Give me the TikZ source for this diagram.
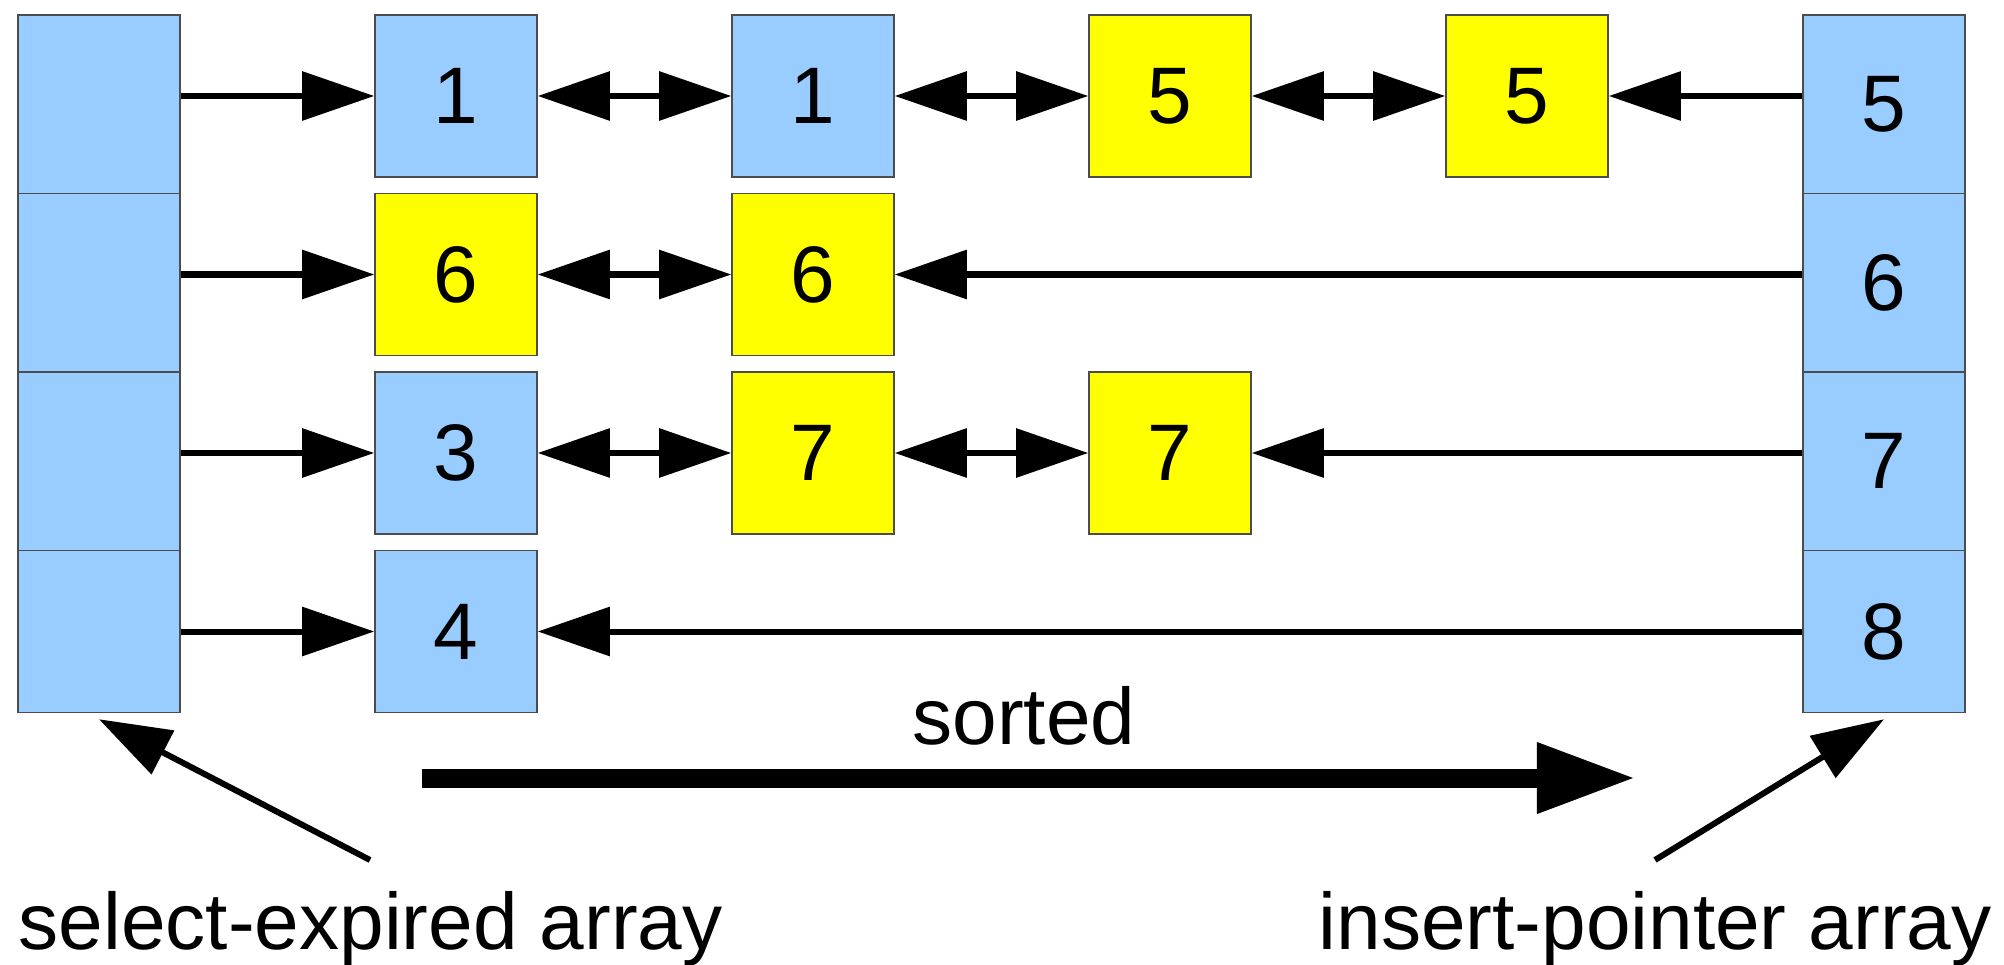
\documentclass[tikz,border=0pt]{standalone}
\usepackage{fontspec}
\setmainfont{Liberation Sans}
\usetikzlibrary{arrows.meta}

\definecolor{cellblue}{HTML}{99CCFF}
\definecolor{cellyellow}{HTML}{FFFF00}

\tikzset{
    box/.style={draw=black!70, line width=0.4pt, inner sep=0pt,
        minimum width=1.62cm, minimum height=1.62cm,
        font=\fontsize{22.8pt}{27pt}\selectfont},
    bluebox/.style={box, fill=cellblue},
    yellowbox/.style={box, fill=cellyellow},
    slot/.style={bluebox, minimum height=1.785cm},
    lastslot/.style={bluebox, minimum height=1.62cm},
    ptr/.style={line width=0.06cm, -{Triangle[length=0.72cm, width=0.48cm]}},
    link/.style={line width=0.06cm,
        {Triangle[length=0.72cm, width=0.48cm]}-{Triangle[length=0.72cm, width=0.48cm]}},
    label/.style={font=\fontsize{22.8pt}{27pt}\selectfont, inner sep=0pt}
}

\begin{document}
\begin{tikzpicture}[x=0.01cm, y=-0.01cm]
    \useasboundingbox (0,0) rectangle (2004,964);

    % select-expired array (left)
    \node[slot] (sel1) at (99,104.25) {};
    \node[slot] (sel2) at (99,282.75) {};
    \node[slot] (sel3) at (99,461.25) {};
    \node[lastslot] (sel4) at (99,631.5) {};

    % insert-pointer array (right)
    \node[slot] (ins1) at (1884,104.25) {5};
    \node[slot] (ins2) at (1884,282.75) {6};
    \node[slot] (ins3) at (1884,461.25) {7};
    \node[lastslot] (ins4) at (1884,631.5) {8};

    % lists
    \node[bluebox] (r1c1) at (456,96) {1};
    \node[bluebox] (r1c2) at (813,96) {1};
    \node[yellowbox] (r1c3) at (1170,96) {5};
    \node[yellowbox] (r1c4) at (1527,96) {5};

    \node[yellowbox] (r2c1) at (456,274.5) {6};
    \node[yellowbox] (r2c2) at (813,274.5) {6};

    \node[bluebox] (r3c1) at (456,453) {3};
    \node[yellowbox] (r3c2) at (813,453) {7};
    \node[yellowbox] (r3c3) at (1170,453) {7};

    \node[bluebox] (r4c1) at (456,631.5) {4};

    % pointers from the left array
    \draw[ptr] (sel1.east |- r1c1.west) -- (r1c1.west);
    \draw[ptr] (sel2.east |- r2c1.west) -- (r2c1.west);
    \draw[ptr] (sel3.east |- r3c1.west) -- (r3c1.west);
    \draw[ptr] (sel4.east |- r4c1.west) -- (r4c1.west);

    % links inside the lists
    \draw[link] (r1c1) -- (r1c2);
    \draw[link] (r1c2) -- (r1c3);
    \draw[link] (r1c3) -- (r1c4);
    \draw[link] (r2c1) -- (r2c2);
    \draw[link] (r3c1) -- (r3c2);
    \draw[link] (r3c2) -- (r3c3);

    % pointers from the right array
    \draw[ptr] (ins1.west |- r1c4.east) -- (r1c4.east);
    \draw[ptr] (ins2.west |- r2c2.east) -- (r2c2.east);
    \draw[ptr] (ins3.west |- r3c3.east) -- (r3c3.east);
    \draw[ptr] (ins4.west |- r4c1.east) -- (r4c1.east);

    % sorted
    \node[label, anchor=base] (sorted) at (1024,744) {sorted};
    \coordinate (sortfrom) at (422,778);
    \coordinate (sortto) at (1636,778);
    \draw[line width=0.19cm, -{Triangle[length=0.99cm, width=0.66cm]}] (sortfrom) -- (sortto);

    % captions
    \node[label, anchor=base west] (selname) at (18,949) {select-expired array};
    \node[label, anchor=base west] (insname) at (1318,949) {insert-pointer array};
    \coordinate (selfoot) at (370,860);
    \coordinate (insfoot) at (1655,860);
    \draw[ptr] (selfoot) -- ([yshift=-0.06cm]sel4.south);
    \draw[ptr] (insfoot) -- ([yshift=-0.06cm]ins4.south);
\end{tikzpicture}
\end{document}
